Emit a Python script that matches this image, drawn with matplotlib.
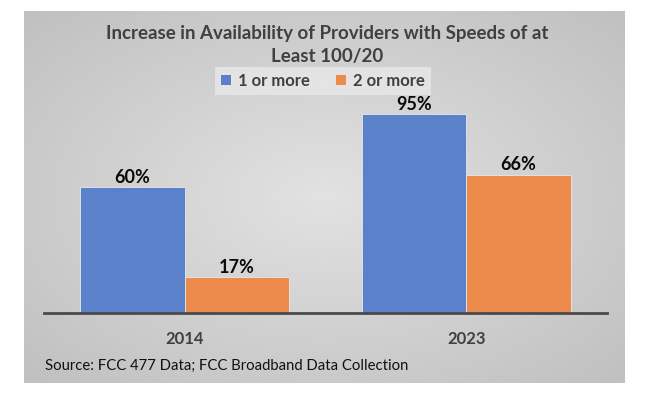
import matplotlib
matplotlib.use("Agg")
import matplotlib.pyplot as plt
import numpy as np
from matplotlib.patches import Patch

categories = ["2014", "2023"]
series_names = ["1 or more", "2 or more"]
one_or_more = [60, 95]
two_or_more = [17, 66]
colors = ["#5A81C9", "#EC8B4B"]
title = "Increase in Availability of Providers with Speeds of at\nLeast 100/20"
source = "Source: FCC 477 Data; FCC Broadband Data Collection"

W, H = 652, 397
fig = plt.figure(figsize=(W/100, H/100), dpi=100)
fig.patch.set_facecolor("white")

# background panel with radial gradient
bg = fig.add_axes([24/W, (H-383)/H, 601/W, 372/H])
yy, xx = np.mgrid[-1:1:200j, -1:1:300j]
r = np.sqrt(xx**2 + yy**2) / np.sqrt(2)
bg.imshow(r, cmap=matplotlib.colors.LinearSegmentedColormap.from_list("g", ["#E2E2E2", "#C0C0C0"]),
          aspect="auto", extent=[0, 1, 0, 1], vmin=0, vmax=1)
bg.set_axis_off()

handles = [Patch(facecolor=c, edgecolor="none") for c in colors]
leg = fig.legend(handles, series_names, loc="center", bbox_to_anchor=(323/W, 1 - 81/H),
                 ncol=2, frameon=True, fancybox=False, handlelength=0.6, handleheight=0.6,
                 handletextpad=0.4, columnspacing=1.6, borderpad=0.35,
                 prop={"family": "Lato", "weight": "bold", "size": 12})
leg.get_frame().set_facecolor("#E6E6E6")
leg.get_frame().set_edgecolor("none")
leg.get_frame().set_alpha(0.9)
leg.set_zorder(1)
for t in leg.get_texts():
    t.set_color("#404040")

ax = fig.add_axes([44/W, (H-313)/H, 563/W, (313-103.5)/H])
ax.set_facecolor("none")
ax.set_zorder(2)
x = np.arange(len(categories))
w = 0.372
vals = [one_or_more, two_or_more]
for i, (v, c, n) in enumerate(zip(vals, colors, series_names)):
    pos = x + (i - 0.5) * w
    bars = ax.bar(pos, v, width=w, color=c, edgecolor="#E8E8E8", linewidth=0.6, label=n)
    for p, val in zip(pos, v):
        ax.text(p, val + 0.6, f"{val}%", ha="center", va="bottom",
                fontsize=13, fontweight="bold", family="Lato", color="#0A0A0A",
                clip_on=False)
ax.set_xlim(-0.5, 1.5)
ax.set_ylim(0, 100)
ax.set_yticks([])
ax.set_xticks(x)
ax.set_xticklabels(categories, fontsize=12, fontweight="bold", family="Lato", color="#404040")
ax.tick_params(axis="x", length=0, pad=13)
for s in ["top", "right", "left"]:
    ax.spines[s].set_visible(False)
ax.spines["bottom"].set_color("#4A4A4A")
ax.spines["bottom"].set_linewidth(2)

fig.text(327/W, 1 - 45/H, title, ha="center", va="center", fontsize=13.5,
         fontweight="bold", family="Lato", color="#404040", linespacing=1.45)

fig.text(45/W, 1 - 366/H, source, ha="left", va="center", fontsize=10.7,
         family="Lato", color="#111111")

fig.savefig("out.png", dpi=100)
